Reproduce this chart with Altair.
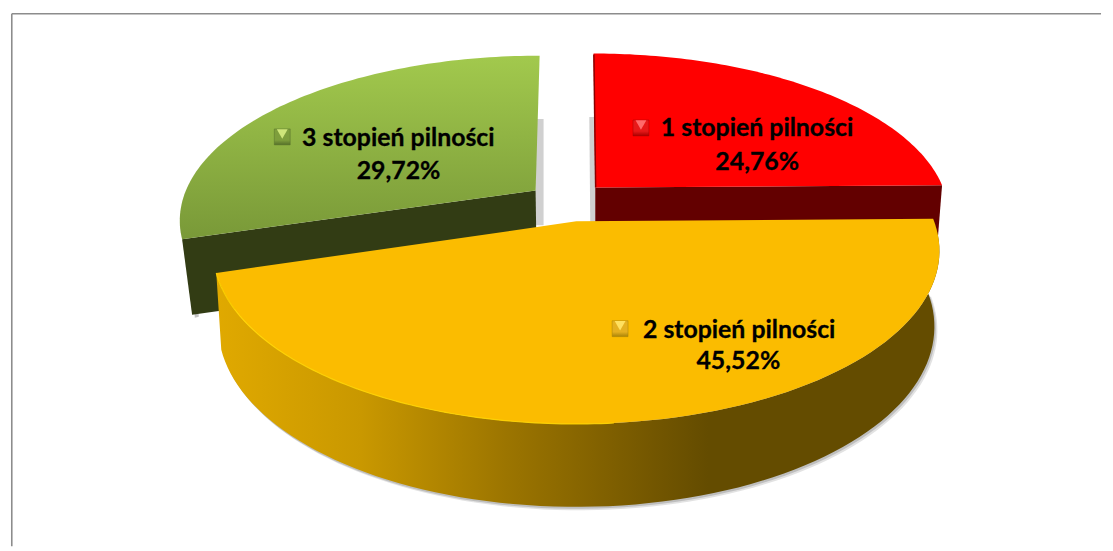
import numpy as np
import pandas as pd
import altair as alt

# --- values
categories = ["1 stopień pilności", "2 stopień pilności", "3 stopień pilności"]
shares = [24.76, 45.52, 29.72]

# --- layout: projection of each exploded slice (pixel space of the page)
W, H = 1105, 548
K = 0.171
TOP = {  # apex x, apex y, half width, half height, lean
    0: (596, 187, 350, 158, -2),
    1: (577, 221, 360, 169, 0),
    2: (536, 190, 352, 159, 4.7),
}
BOTTOM = {
    0: (596, 262, 344, 158, -2),
    1: (577, 296, 355, 176, 0),
    2: (537, 266, 343, 159, 4.7),
}
LABEL = {  # key x, key y, name left x, name y, share x, share y
    0: (642, 127, 662, 127, 759, 161),
    1: (621, 329, 644, 330, 740, 362),
    2: (281, 136, 301, 137, 398, 170),
}
SHARE_TEXT = [f"{v:.2f}".replace(".", ",") + "%" for v in shares]

edges = np.concatenate([[0], np.cumsum(shares)]) / sum(shares) * 2 * np.pi


def project(theta, p):
    px, py, a, b, lean = p
    xw, yw = np.sin(theta), np.cos(theta)
    w = 1 + K * yw
    return px + (a * xw + lean * yw) / w, py - b * yw / w


def arc(i, p, n=90, t0=None, t1=None):
    t0 = edges[i] if t0 is None else t0
    t1 = edges[i + 1] if t1 is None else t1
    return project(np.linspace(t0, t1, n), p)


def table(xs, ys):
    return pd.DataFrame({"x": xs, "y": ys, "i": np.arange(len(xs))})


xscale = alt.Scale(domain=[8, W], range=[0, W - 8], nice=False, zero=False)
yscale = alt.Scale(domain=[8, H], range=[0, H - 8], nice=False, zero=False)
X = alt.X("x:Q", scale=xscale, axis=None)
Y = alt.Y("y:Q", scale=yscale, axis=None)


def poly(xs, ys, fill, **kw):
    return alt.Chart(table(xs, ys)).mark_line(fill=fill, strokeWidth=0, **kw).encode(
        x=X, y=Y, order="i:Q"
    )


def stroke(xs, ys, color, width=1.0, opacity=1.0):
    return alt.Chart(table(xs, ys)).mark_line(
        color=color, strokeWidth=width, opacity=opacity
    ).encode(x=X, y=Y, order="i:Q")


def top_face(i, fill):
    ax, ay = arc(i, TOP[i])
    px, py = TOP[i][:2]
    return poly(np.r_[px, ax, px], np.r_[py, ay, py], fill)


def grad(stops, vertical=False):
    return alt.LinearGradient(
        gradient="linear",
        x1=0, y1=0,
        x2=0 if vertical else 1,
        y2=1 if vertical else 0,
        stops=[alt.GradientStop(offset=o, color=c) for o, c in stops],
    )


def flat_wall(i, fill):
    """Cut faces of an exploded slice: apex to its outer corner."""
    t = edges[1] if i == 0 else edges[2]
    cx, cy = project(np.array([t]), TOP[i])
    dx, dy = project(np.array([t]), BOTTOM[i])
    return poly(
        [TOP[i][0], cx[0], dx[0], BOTTOM[i][0]],
        [TOP[i][1], cy[0], dy[0], BOTTOM[i][1]],
        fill,
    )


layers = []

# frame
layers.append(stroke([8.8, 8.8], [H, 12], "#8c8c8c", 1.6))
layers.append(stroke([8.8, W], [12, 12], "#8c8c8c", 1.6))

# soft shadows
gx0, gy0 = arc(1, BOTTOM[1])
for off, op in [((3, 3.5), 0.22), ((1.5, 2), 0.35)]:
    layers.append(poly(gx0 + off[0], gy0 + off[1], "#7a7a7a", opacity=op))
layers.append(poly([188, 193, 197, 192], [240, 318, 317, 240], "#9a9a9a", opacity=0.6))
layers.append(poly([536, 544, 544, 536], [118, 118, 225, 225], "#c4c4c4", opacity=0.8))
layers.append(poly([590, 596, 596, 591], [116, 116, 225, 225], "#c4c4c4", opacity=0.8))

# green slice
layers.append(flat_wall(2, "#323c14"))
layers.append(
    top_face(2, grad([(0, "#a2c94d"), (1, "#799938")], vertical=True))
)

# red slice
layers.append(flat_wall(0, "#630000"))
layers.append(top_face(0, "#ff0000"))
layers.append(stroke([594.6, 596.4], [53, 187], "#8a0000", 1.5))

# gold slice: curved wall, then top
tx, ty = arc(1, TOP[1])
bx, by = arc(1, BOTTOM[1])
layers.append(
    poly(
        np.r_[tx, bx[::-1]],
        np.r_[ty, by[::-1]],
        grad(
            [
                (0, "#e0a900"),
                (0.2, "#c99800"),
                (0.4, "#9c7500"),
                (0.6, "#745700"),
                (0.68, "#644c00"),
                (1, "#644c00"),
            ]
        ),
    )
)
layers.append(top_face(1, "#fbbc00"))
hx, hy = arc(1, TOP[1], t0=np.radians(175))
layers.append(stroke(hx, hy, "#ffd400", 1.2, 0.9))

# labels
keys = {
    0: ("#e81818", "#ff6a6a", "#a80000"),
    1: ("#e5b020", "#ffe060", "#a88408"),
    2: ("#7e9e3c", "#cfe67a", "#55702a"),
}
for i, name in enumerate(categories):
    kx, ky, nx, ny, sx, sy = LABEL[i]
    base, hi, lo = keys[i]
    one = pd.DataFrame({"x": [kx], "y": [ky]})
    layers.append(
        alt.Chart(one).mark_square(
            size=256, opacity=1,
            fill=grad([(0, base), (0.7, base), (1, lo)], vertical=True),
            stroke=lo, strokeWidth=0.5,
        ).encode(x=X, y=Y)
    )
    layers.append(
        alt.Chart(pd.DataFrame({"x": [kx], "y": [ky - 3]}))
        .mark_point(shape="triangle-down", size=120, filled=True, color=hi, opacity=1)
        .encode(x=X, y=Y)
    )
    layers.append(
        alt.Chart(pd.DataFrame({"x": [nx], "y": [ny], "t": [name]}))
        .mark_text(font="Lato", fontSize=25, fontWeight="bold", align="left",
                   baseline="middle", color="#000000", stroke="#000000", strokeWidth=0.3)
        .encode(x=X, y=Y, text="t:N")
    )
    layers.append(
        alt.Chart(pd.DataFrame({"x": [sx], "y": [sy], "t": [SHARE_TEXT[i]]}))
        .mark_text(font="Lato", fontSize=25, fontWeight="bold", align="center",
                   baseline="middle", color="#000000", stroke="#000000", strokeWidth=0.3)
        .encode(x=X, y=Y, text="t:N")
    )

chart = (
    alt.layer(*layers)
    .properties(width=W - 8, height=H - 8, padding=0, background="#ffffff")
    .configure_view(stroke=None)
)
chart.save("out.html", embed_options={"renderer": "svg", "actions": False})
